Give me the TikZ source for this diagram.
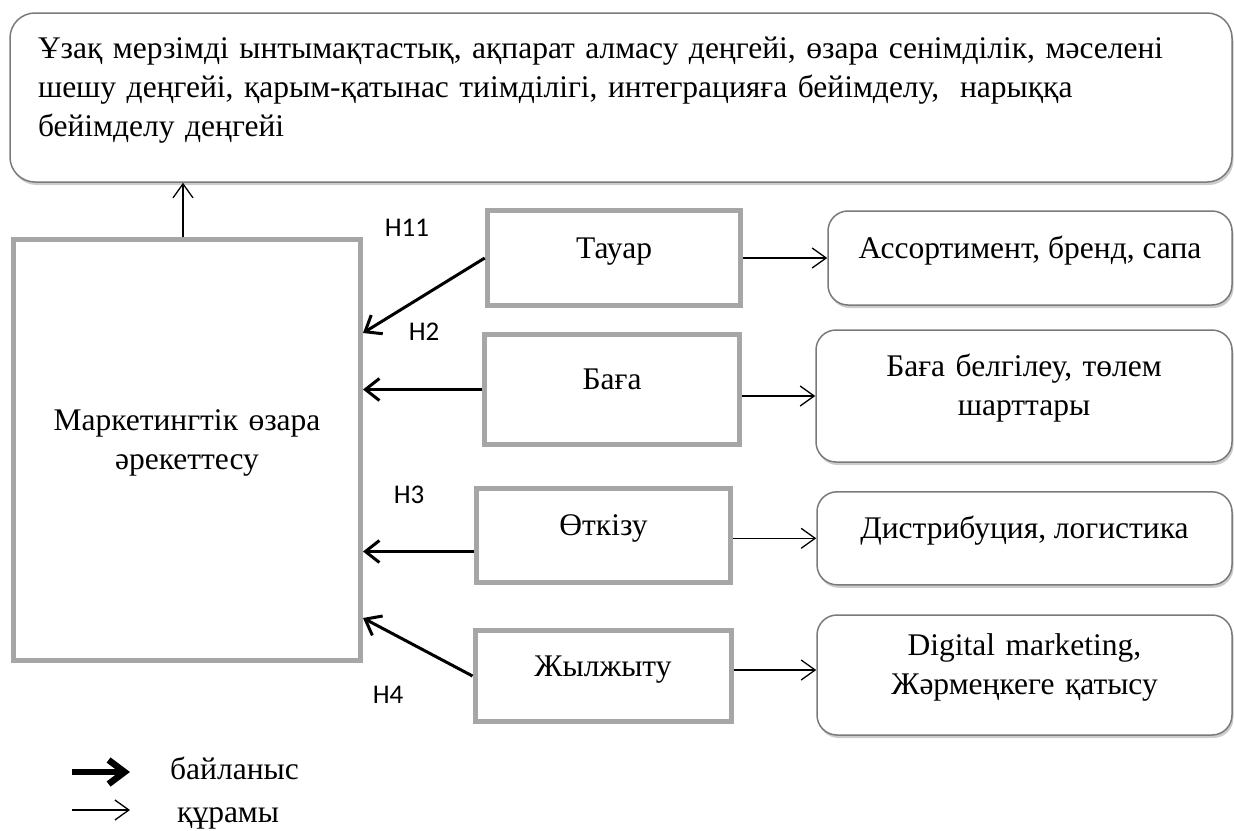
\documentclass[tikz,border=0pt]{standalone}
\usepackage{fontspec}
\setmainfont{Liberation Serif}
\newfontfamily\hypfont{Carlito}
\usetikzlibrary{arrows.meta, shadows}
\definecolor{boxgray}{HTML}{A6A6A6}
\definecolor{edgegray}{HTML}{7A7A7A}
\tikzset{
  outcome/.style = {rectangle, rounded corners=25pt, draw=edgegray, line width=1.5pt, fill=white, align=left, text width=1166pt, inner xsep=28pt, inner ysep=0pt, minimum height=169pt, text height=12pt, text depth=90pt, drop shadow={shadow xshift=1.5pt, shadow yshift=-3pt, opacity=0.4}},
  factor/.style = {rectangle, draw=boxgray, line width=5pt, align=center, inner sep=0pt, text height=12pt, text depth=12pt},
  detail/.style = {rectangle, rounded corners=20pt, draw=edgegray, line width=1.5pt, fill=white, align=center, inner sep=0pt, text height=12pt, text depth=12pt, drop shadow={shadow xshift=1.5pt, shadow yshift=-3pt, opacity=0.4}},
  twoline/.style = {text width=380pt, text height=12pt, text depth=51pt},
  link/.style = {-{Straight Barb[length=14pt, width=22pt]}, line width=3pt},
  part/.style = {-{Straight Barb[length=14pt, width=20pt]}, line width=1.3pt},
  hyp/.style = {font=\hypfont\fontsize{27}{30}\selectfont, inner sep=0pt}
}

\begin{document}
\begin{tikzpicture}[x=1pt, y=-1pt, font=\fontsize{31.5}{39}\selectfont]
\useasboundingbox (0,0) rectangle (1234,830);

% Result box on top
\node[outcome] (top) at (621,97.5) {Ұзақ мерзімді ынтымақтастық, ақпарат алмасу деңгейі, өзара сенімділік, мәселені\\ шешу деңгейі, қарым-қатынас тиімділігі, интеграцияға бейімделу,\ \ нарыққа\\ бейімделу деңгейі};

% Central box
\node[factor, twoline, text width=330pt, minimum width=347pt, minimum height=421pt] (main) at (187,450) {Маркетингтік өзара\\ әрекеттесу};

% Marketing mix
\node[factor, minimum width=253.5pt, minimum height=94.5pt] (tovar) at (614,258) {Тауар};
\node[factor, minimum width=255pt, minimum height=110pt] (baga) at (612,389.5) {Баға};
\node[factor, minimum width=254pt, minimum height=94pt] (otkizu) at (603.5,535.5) {Өткізу};
\node[factor, minimum width=256pt, minimum height=90.5pt] (zhyl) at (603,676) {Жылжыту};

% Contents
\node[detail, minimum width=404pt, minimum height=94pt] (assort) at (1030,258) {Ассортимент, бренд, сапа};
\node[detail, twoline, minimum width=416pt, minimum height=132pt] (bagabel) at (1024,396) {Баға белгілеу, төлем\\ шарттары};
\node[detail, minimum width=415pt, minimum height=93pt] (distr) at (1024.5,538.3) {Дистрибуция, логистика};
\node[detail, twoline, minimum width=415pt, minimum height=120pt] (digital) at (1024.5,675) {Digital marketing,\\ Жәрмеңкеге қатысу};

% Hypotheses
\node[hyp] (h11) at (407,228) {H11};
\node[hyp] (h2) at (424,332) {H2};
\node[hyp] (h3) at (409,495) {H3};
\node[hyp] (h4) at (388,695) {H4};

% Arrows
\coordinate (up) at ([xshift=-4pt]main.north);
\draw[part] (up) -- (up |- top.south);

\draw[link] (tovar.west) -- ([yshift=117pt]main.east);
\draw[link] (baga.west) -- (main.east |- baga.west);
\coordinate (otk) at ([yshift=-16pt]otkizu.west);
\draw[link] (otk) -- (main.east |- otk);
\draw[link] (zhyl.west) -- ([yshift=-168pt]main.east);

\draw[part] (tovar.east) -- (assort.west);
\draw[part] (baga.east |- bagabel.west) -- (bagabel.west);
\draw[part] (otkizu.east |- distr.west) -- (distr.west);
\draw[part] ([yshift=5pt]zhyl.east |- digital.west) -- ([yshift=5pt]digital.west);

% Legend
\coordinate (lgA) at (72,772);
\coordinate (lgB) at (130,772);
\coordinate (lgC) at (72,810);
\coordinate (lgD) at (130,810);
\draw[line width=6.5pt, -{Straight Barb[length=16pt, width=24pt]}] (lgA) -- (lgB);
\draw[part] (lgC) -- (lgD);
\node[anchor=base west, inner sep=0pt] (lgtxtA) at (170,779) {байланыс};
\node[anchor=base west, inner sep=0pt] (lgtxtB) at (177,822) {құрамы};

\end{tikzpicture}
\end{document}
